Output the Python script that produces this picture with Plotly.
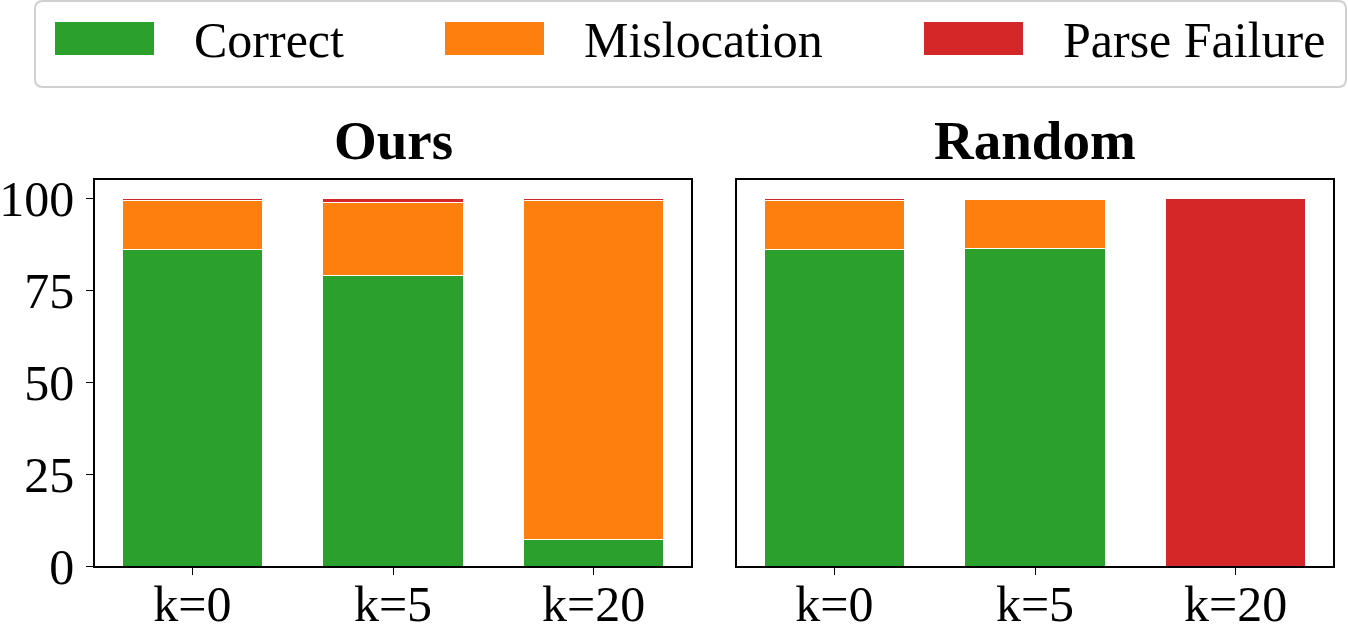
import plotly.graph_objects as go
from plotly.subplots import make_subplots

categories = ["k=0", "k=5", "k=20"]
panels = ["Ours", "Random"]
series_names = ["Correct", "Mislocation", "Parse Failure"]
series_colors = ["#2ca02c", "#ff7f0e", "#d62728"]

ours_correct = [86.0, 79.0, 7.3]
ours_mislocation = [13.4, 19.8, 92.1]
ours_parse_failure = [0.6, 1.2, 0.6]

random_correct = [86.0, 86.5, 0.0]
random_mislocation = [13.4, 13.3, 0.0]
random_parse_failure = [0.6, 0.0, 100.0]

y_ticks = [0, 25, 50, 75, 100]

FONT = "Liberation Serif, Times New Roman, serif"
W, H = 1348, 625
ML, MR, MT, MB = 95, 15, 180, 59
PW, PH = W - ML - MR, H - MT - MB


def px(x):
    return (x - ML) / PW


def py(y):
    return (H - MB - y) / PH


fig = make_subplots(rows=1, cols=2, shared_yaxes=False, horizontal_spacing=px(737) - px(691))

panel_data = [
    [ours_correct, ours_mislocation, ours_parse_failure],
    [random_correct, random_mislocation, random_parse_failure],
]

for col, series in enumerate(panel_data, start=1):
    for name, color, vals in zip(series_names, series_colors, series):
        fig.add_trace(
            go.Bar(
                x=categories, y=vals, name=name,
                marker=dict(color=color, line=dict(color="white", width=1)),
                showlegend=False,
            ),
            row=1, col=col,
        )

fig.update_layout(
    barmode="stack", bargap=0.3,
    width=W, height=H,
    margin=dict(l=ML, r=MR, t=MT, b=MB, pad=0, autoexpand=False),
    plot_bgcolor="white", paper_bgcolor="white",
    font=dict(family=FONT, size=50, color="black"),
)

for col in (1, 2):
    fig.update_xaxes(
        type="category", range=[-0.485, 2.485], automargin=False,
        showline=True, mirror=True, linecolor="black", linewidth=1.5,
        ticks="outside", ticklen=7, tickwidth=1.2, tickcolor="black",
        ticklabelstandoff=-14,
        showgrid=False, zeroline=False,
        tickfont=dict(family=FONT, size=50),
        row=1, col=col,
    )
    fig.update_yaxes(
        range=[0, 105], tickvals=y_ticks, automargin=False,
        showline=True, mirror=True, linecolor="black", linewidth=1.5,
        ticks="outside" if col == 1 else "", ticklen=7, tickwidth=1.2, tickcolor="black",
        ticklabelstandoff=2,
        showticklabels=(col == 1),
        showgrid=False, zeroline=False,
        tickfont=dict(family=FONT, size=50),
        row=1, col=col,
    )

# Panel titles
for i, title in enumerate(panels):
    dom = fig.layout["xaxis" if i == 0 else "xaxis2"].domain
    fig.add_annotation(
        text=f"<b>{title}</b>", xref="paper", yref="paper",
        x=(dom[0] + dom[1]) / 2, y=py(140), xanchor="center", yanchor="middle",
        showarrow=False, font=dict(family=FONT, size=55, color="black"),
    )

# Legend box (rounded)
x0, x1, y0, y1, r = 35, 1346, 1, 87, 8
path = (
    f"M {px(x0 + r)},{py(y0)} L {px(x1 - r)},{py(y0)} "
    f"Q {px(x1)},{py(y0)} {px(x1)},{py(y0 + r)} L {px(x1)},{py(y1 - r)} "
    f"Q {px(x1)},{py(y1)} {px(x1 - r)},{py(y1)} L {px(x0 + r)},{py(y1)} "
    f"Q {px(x0)},{py(y1)} {px(x0)},{py(y1 - r)} L {px(x0)},{py(y0 + r)} "
    f"Q {px(x0)},{py(y0)} {px(x0 + r)},{py(y0)} Z"
)
fig.add_shape(type="path", path=path, xref="paper", yref="paper",
              line=dict(color="#d0d0d0", width=2), fillcolor="white", layer="above")

swatch_left = [55, 445, 924]
for name, color, sx in zip(series_names, series_colors, swatch_left):
    fig.add_shape(type="rect", xref="paper", yref="paper",
                  x0=px(sx), x1=px(sx + 99), y0=py(22), y1=py(55),
                  fillcolor=color, line=dict(width=0), layer="above")
    fig.add_annotation(text=name, xref="paper", yref="paper",
                       x=px(sx + 137), y=py(40), xanchor="left", yanchor="middle",
                       showarrow=False, font=dict(family=FONT, size=50, color="black"))

fig.write_html("out.html")
